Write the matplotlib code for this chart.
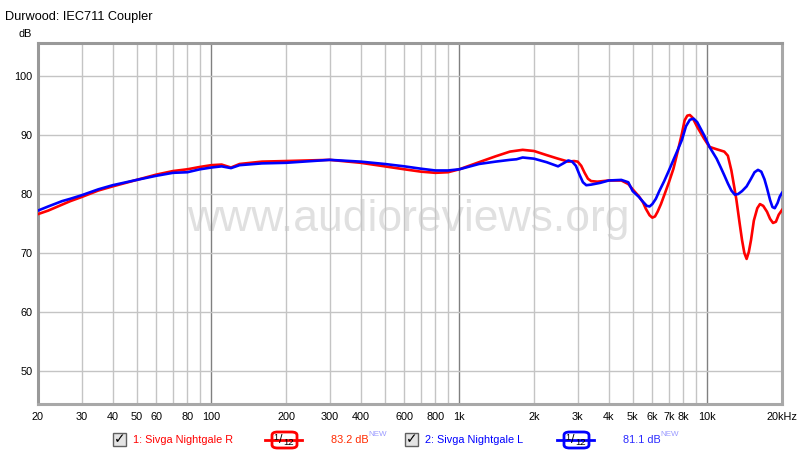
import matplotlib
matplotlib.use("Agg")
import matplotlib.pyplot as plt
from matplotlib.patches import Rectangle, FancyBboxPatch
from matplotlib.lines import Line2D
from matplotlib.ticker import FixedLocator, NullLocator

plt.rcParams['font.family'] = ['Liberation Sans', 'DejaVu Sans']

# ---- data ----
red_freq = [20, 22, 25, 27, 30, 35, 40, 50, 60, 70, 80, 90, 100, 110, 120, 130, 160, 200,
            300, 400, 500, 600, 700, 800, 900, 1000, 1200, 1400, 1600, 1800, 2000, 2250,
            2500, 2750, 2900, 3000, 3100, 3200, 3300, 3400, 3600, 4000, 4500, 4800, 5000,
            5300, 5500, 5650, 5850, 6000, 6150, 6300, 6500, 6700, 7000, 7300, 7600, 7900,
            8100, 8300, 8500, 8700, 9100, 9700, 10200, 10900, 11700, 12100, 12500, 12800,
            13100, 13500, 13800, 14100, 14400, 14700, 15000, 15400, 15900, 16300, 16800,
            17400, 17900, 18400, 18900, 19400, 20000]
red_db = [76.6, 77.2, 78.2, 78.8, 79.5, 80.6, 81.3, 82.4, 83.3, 83.9, 84.2, 84.6, 84.9,
          85.0, 84.5, 85.1, 85.5, 85.6, 85.8, 85.3, 84.7, 84.2, 83.8, 83.6, 83.7, 84.2,
          85.4, 86.4, 87.2, 87.5, 87.3, 86.6, 86.0, 85.5, 85.6, 85.5, 84.8, 83.6, 82.6,
          82.2, 82.1, 82.3, 82.3, 81.7, 80.8, 79.6, 78.6, 77.5, 76.4, 76.0, 76.2, 77.0,
          78.3, 79.8, 82.0, 84.3, 87.3, 90.3, 92.5, 93.3, 93.4, 93.0, 91.4, 89.4, 88.0,
          87.6, 87.2, 86.5, 84.0, 81.5, 79.0, 75.0, 72.2, 70.0, 69.0, 70.2, 72.2, 75.5,
          77.6, 78.3, 78.0, 77.0, 75.8, 75.1, 75.3, 76.5, 77.3]

blue_freq = [20, 22, 25, 27, 30, 35, 40, 50, 60, 70, 80, 90, 100, 110, 120, 130, 160, 200,
             300, 400, 500, 600, 700, 800, 900, 1000, 1200, 1400, 1600, 1700, 1800, 2000,
             2250, 2500, 2650, 2750, 2850, 2950, 3050, 3150, 3250, 3400, 3700, 4000, 4500,
             4800, 5000, 5300, 5500, 5700, 5850, 6000, 6200, 6400, 6700, 7000, 7300, 7600,
             7900, 8200, 8500, 8800, 9100, 9700, 10200, 10900, 11300, 11700, 12100, 12500,
             12900, 13300, 13800, 14400, 15000, 15500, 16000, 16500, 17000, 17400, 17900,
             18300, 18700, 19200, 19600, 20000]
blue_db = [77.2, 77.9, 78.8, 79.2, 79.8, 80.8, 81.5, 82.4, 83.1, 83.6, 83.7, 84.2, 84.5,
           84.7, 84.4, 84.9, 85.2, 85.3, 85.8, 85.5, 85.1, 84.7, 84.3, 84.0, 84.0, 84.2,
           85.1, 85.5, 85.8, 85.9, 86.2, 86.0, 85.4, 84.7, 85.3, 85.7, 85.5, 84.8, 83.3,
           82.0, 81.5, 81.6, 81.9, 82.3, 82.4, 82.0, 80.5, 79.5, 78.7, 78.0, 77.9, 78.3,
           79.2, 80.5, 82.2, 84.0, 85.8, 87.5, 89.2, 91.5, 92.6, 92.8, 92.2, 90.0, 88.0,
           86.0, 84.6, 83.2, 81.8, 80.6, 79.9, 80.0, 80.5, 81.3, 82.6, 83.7, 84.1, 83.8,
           82.5, 81.0, 79.0, 77.8, 77.6, 78.5, 79.6, 80.2]

xtick_vals = [20, 30, 40, 50, 60, 80, 100, 200, 300, 400, 600, 800, 1000, 2000, 3000,
              4000, 5000, 6000, 7000, 8000, 10000, 20000]
xtick_labels = ['20', '30', '40', '50', '60', '80', '100', '200', '300', '400', '600',
                '800', '1k', '2k', '3k', '4k', '5k', '6k', '7k', '8k', '10k', '20kHz']
ytick_vals = [50, 60, 70, 80, 90, 100]

title = "Durwood: IEC711 Coupler"
series_names = ["1: Sivga Nightgale R", "2: Sivga Nightgale L"]
series_levels = ["83.2 dB", "81.1 dB"]

# ---- figure ----
W, H = 800, 454
fig = plt.figure(figsize=(W / 100, H / 100), dpi=100)
ax = fig.add_axes([38 / W, 1 - 404 / H, 744 / W, 361.5 / H])
ax.set_xscale('log')
ax.set_xlim(20, 20000)
ax.set_ylim(44.4, 105.7)

# grid
minor_grid = []
for dec in [10, 100, 1000, 10000]:
    for m in range(1, 10):
        v = dec * m
        if 20 < v < 20000:
            minor_grid.append(v)
for v in minor_grid:
    col = '#808080' if v in (100, 1000, 10000) else '#c4c4c4'
    ax.axvline(v, color=col, lw=1.0, zorder=1)
for v in ytick_vals:
    ax.axhline(v, color='#c4c4c4', lw=1.0, zorder=1)

# watermark
ax.text(0.498, 0.51, "www.audioreviews.org", transform=ax.transAxes, ha='center',
        va='center', fontsize=32, color='#e0e0e0', zorder=0.5,
        family='Liberation Sans')

ax.plot(red_freq, red_db, color='#ff0000', lw=1.9, zorder=3, solid_joinstyle='round')
ax.plot(blue_freq, blue_db, color='#0000ff', lw=1.9, zorder=4, solid_joinstyle='round')

ax.xaxis.set_major_locator(FixedLocator(xtick_vals))
ax.set_xticklabels(xtick_labels)
ax.xaxis.set_minor_locator(NullLocator())
ax.set_yticks(ytick_vals)
ax.tick_params(axis='both', length=0, labelsize=7.8, colors='black', pad=4)
ax.tick_params(axis='x', pad=6)

for s in ax.spines.values():
    s.set_color('#a8a8a8')
    s.set_linewidth(2.2)
ax.spines['top'].set_color('#999999')
ax.spines['left'].set_color('#999999')

# title and unit
def fx(x):
    return x / W

def fy(y):
    return 1 - y / H

fig.text(fx(5), fy(17), title, fontsize=9.2, ha='left', va='center', color='#000000')
fig.text(fx(32), fy(34), "dB", fontsize=7.8, ha='right', va='center', color='#000000')

# legend
def legend_entry(x0, name, level, color, level_color):
    # checkbox
    fig.patches.append(Rectangle((fx(x0), fy(446)), 13 / W, 13 / H,
                                 transform=fig.transFigure, facecolor='#e4e4e4',
                                 edgecolor='#606060', lw=1.0))
    fig.text(fx(x0 + 6.5), fy(439.5), "\u2713", fontsize=10, ha='center', va='center',
             color='black', family='DejaVu Sans', weight='bold')
    fig.text(fx(x0 + 20), fy(440), name, fontsize=7.8, ha='left', va='center', color=color)
    # symbol
    sx = x0 + 152
    fig.lines.append(Line2D([fx(sx), fx(sx + 37)], [fy(440), fy(440)],
                            transform=fig.transFigure, color=color, lw=2))
    fig.patches.append(FancyBboxPatch((fx(sx + 7), fy(448)), 25 / W, 16 / H,
                                      boxstyle="round,pad=0,rounding_size=0.007",
                                      transform=fig.transFigure, facecolor='white',
                                      edgecolor=color, lw=2))
    fig.text(fx(sx + 11), fy(437.5), "1", fontsize=6.5, ha='center', va='center', color='black')
    fig.text(fx(sx + 16), fy(440), "/", fontsize=9, ha='center', va='center', color='black')
    fig.text(fx(sx + 23.5), fy(442.5), "12", fontsize=6.8, ha='center', va='center', color='black')
    # level
    fig.text(fx(x0 + 218), fy(440), level, fontsize=7.8, ha='left', va='center',
             color=level_color)
    fig.text(fx(x0 + 255), fy(435), "NEW", fontsize=5.8, ha='left', va='center',
             color='#9a9aff')

legend_entry(113, series_names[0], series_levels[0], '#ff0000', '#ff2a00')
legend_entry(405, series_names[1], series_levels[1], '#0000ff', '#2a2aff')

fig.savefig("out.png", dpi=100)
